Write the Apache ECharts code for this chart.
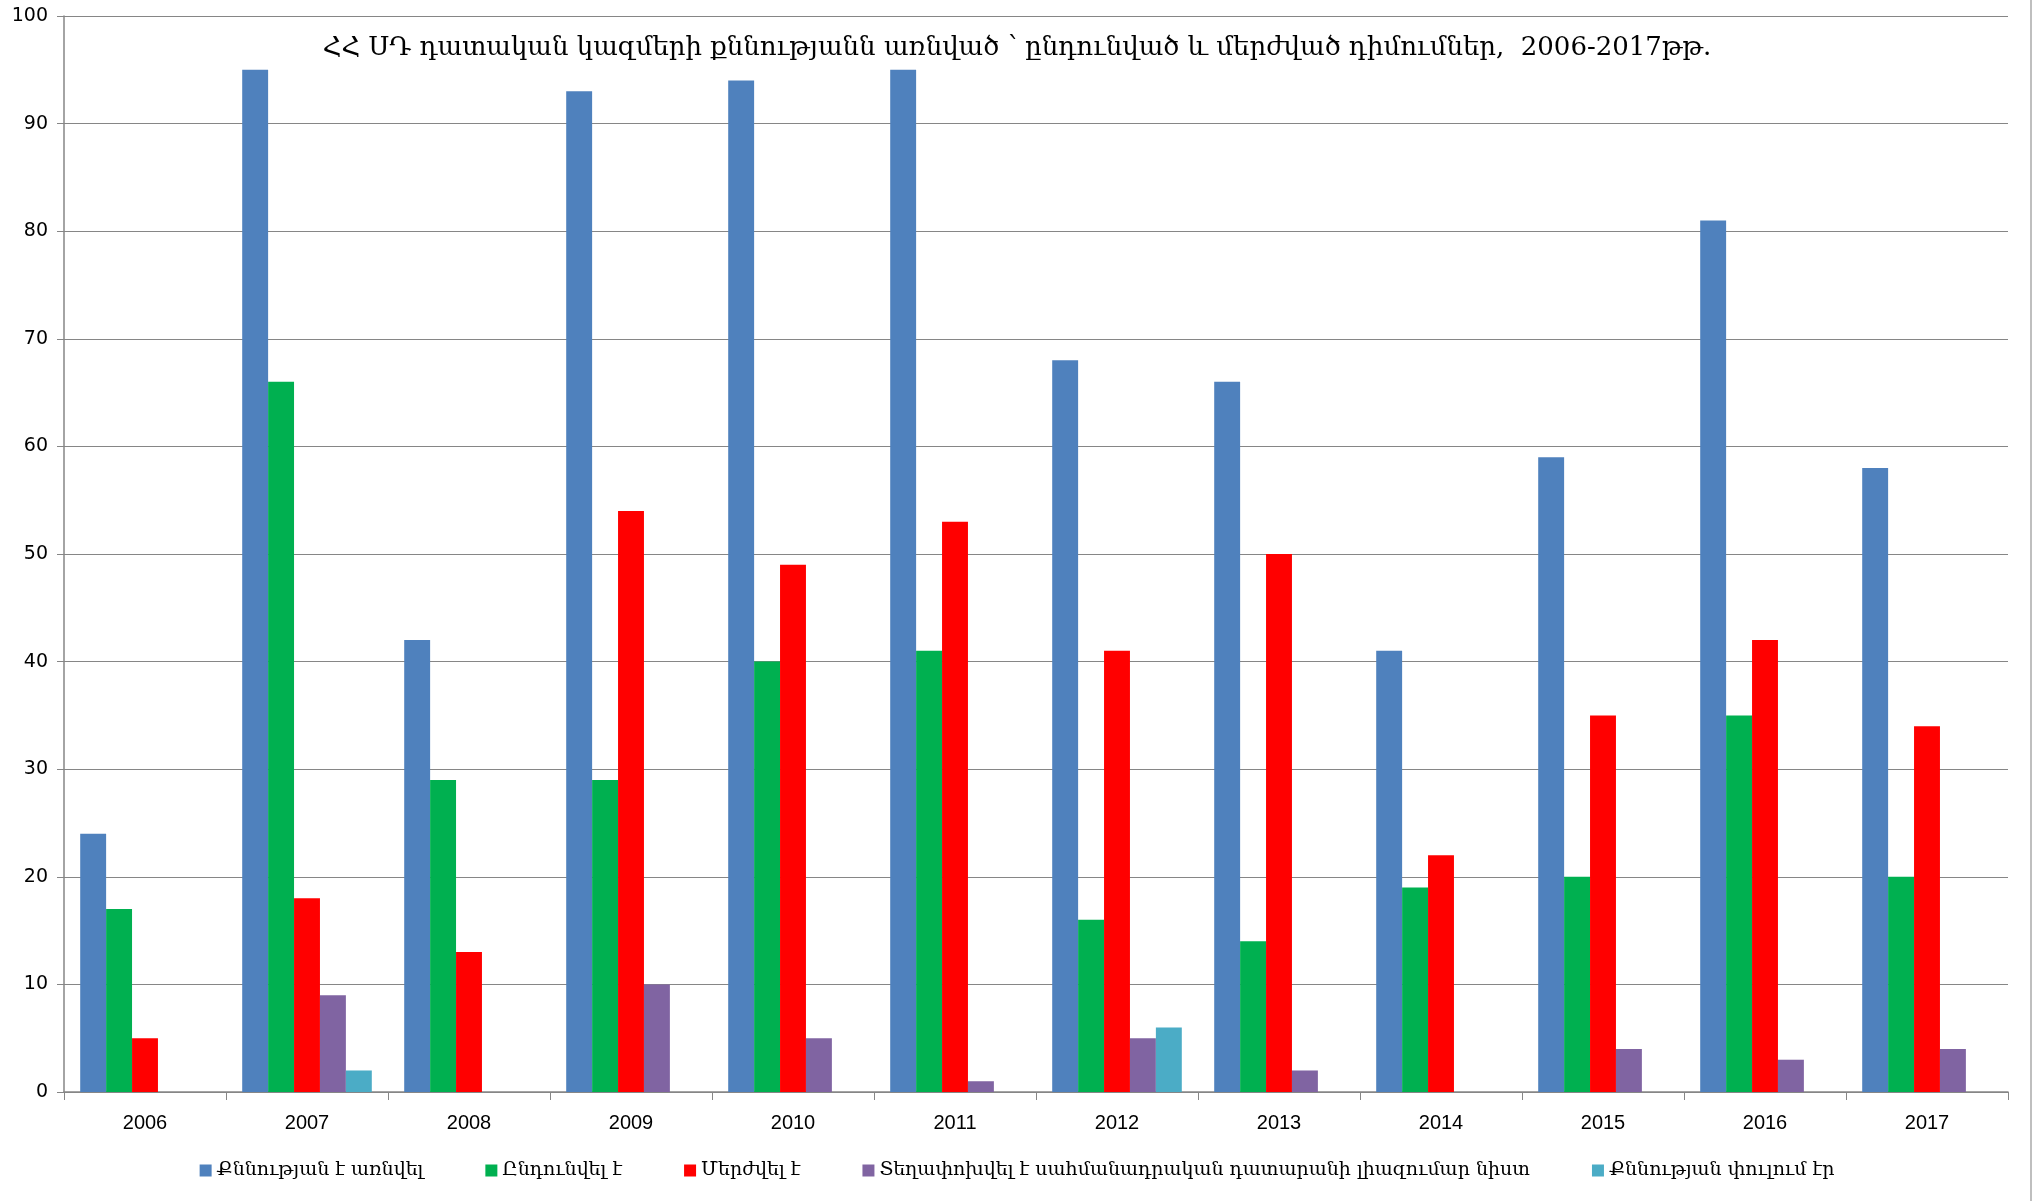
<!DOCTYPE html>
<html>
<head>
<meta charset="utf-8">
<script src="https://cdn.jsdelivr.net/npm/echarts@6/dist/echarts.min.js"></script>
<style>
    html, body { margin: 0; padding: 0; background: #fff; }
    #chart { width: 2034px; height: 1201px; }
</style>
</head>
<body>
<div id="chart"></div>
<script>
var years = ["2006", "2007", "2008", "2009", "2010", "2011", "2012", "2013", "2014", "2015", "2016", "2017"];
var seriesNames = ["Քննության է առնվել", "Ընդունվել է", "Մերժվել է", "Տեղափոխվել է սահմանադրական դատարանի լիազումար նիստ", "Քննության փուլում էր"];
var examined = [24, 95, 42, 93, 94, 95, 68, 66, 41, 59, 81, 58];
var accepted = [17, 66, 29, 29, 40, 41, 16, 14, 19, 20, 35, 20];
var rejected = [5, 18, 13, 54, 49, 53, 41, 50, 22, 35, 42, 34];
var transferred = [null, 9, null, 10, 5, 1, 5, 2, null, 4, 3, 4];
var pending = [null, 2, null, null, null, null, 6, null, null, null, null, null];
var colors = ["#4F81BD", "#00B050", "#FF0000", "#8064A2", "#4BACC6"];

var chart = echarts.init(document.getElementById("chart"));

function makeBar(name, data, color) {
    return {
        name: name,
        type: 'bar',
        data: data,
        barGap: '0%',
        barCategoryGap: '20%',
        itemStyle: { color: color },
        animation: false
    };
}

var option = {
    backgroundColor: '#fff',
    title: {
        text: "ՀՀ ՍԴ դատական կազմերի քննությանն առնված ՝ ընդունված և մերժված դիմումներ,  2006-2017թթ.",
        left: 1012,
        textAlign: 'center',
        top: 30,
        textStyle: {
            fontFamily: 'DejaVu Serif',
            fontWeight: 'normal',
            fontSize: 26,
            color: '#000'
        }
    },
    legend: {
        bottom: 16,
        left: 'center',
        itemWidth: 12,
        itemHeight: 12,
        itemGap: 62,
        icon: 'rect',
        textStyle: { fontFamily: 'DejaVu Serif', fontSize: 19, color: '#000' },
        data: seriesNames
    },
    grid: {
        left: 64,
        right: 26,
        top: 16,
        bottom: 109,
        containLabel: false
    },
    xAxis: {
        type: 'category',
        data: years,
        axisLine: { lineStyle: { color: '#868686', width: 1.5 } },
        axisTick: { show: true, length: 8, lineStyle: { color: '#868686' } },
        axisLabel: { fontFamily: 'Liberation Sans', fontSize: 20, color: '#000', margin: 21 }
    },
    yAxis: {
        type: 'value',
        min: 0,
        max: 100,
        interval: 10,
        axisLine: { show: true, lineStyle: { color: '#868686', width: 1.5 } },
        axisTick: { show: true, length: 7, lineStyle: { color: '#868686' } },
        axisLabel: { fontFamily: 'DejaVu Sans', fontSize: 19, color: '#000', margin: 16 },
        splitLine: { lineStyle: { color: '#868686', width: 1 } }
    },
    series: [
        makeBar(seriesNames[0], examined, colors[0]),
        makeBar(seriesNames[1], accepted, colors[1]),
        makeBar(seriesNames[2], rejected, colors[2]),
        makeBar(seriesNames[3], transferred, colors[3]),
        makeBar(seriesNames[4], pending, colors[4])
    ],
    graphic: [{
        type: 'line',
        shape: { x1: 2031, y1: 0, x2: 2031, y2: 1201 },
        style: { stroke: '#bfbfbf', lineWidth: 2 }
    }]
};
chart.setOption(option);
</script>
</body>
</html>
